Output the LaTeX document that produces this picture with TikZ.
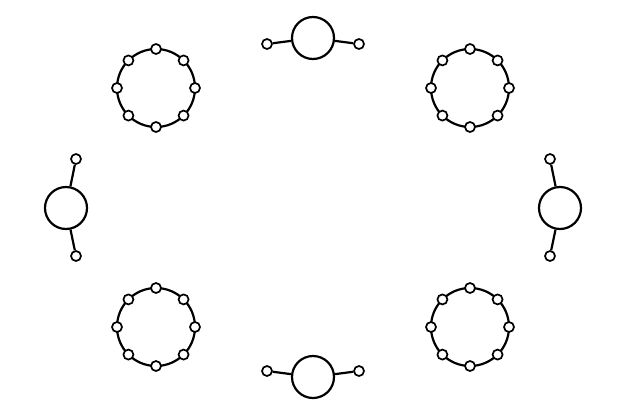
\documentclass[tikz,border=0pt]{standalone}
\usetikzlibrary{calc}
\begin{document}
\begin{tikzpicture}[x=1pt,y=-1pt,
  big/.style={circle,draw=black,line width=2.2pt,fill=white,minimum size=42pt,inner sep=0pt},
  dot/.style={circle,draw=black,line width=1.7pt,fill=white,minimum size=10pt,inner sep=0pt},
  link/.style={line width=2.2pt},
  ringline/.style={line width=2.2pt}]
\useasboundingbox (0,0) rectangle (626,418);
% top and bottom molecules
\node[big] (T) at (313,38) {};
\node[dot] (Tl) at (267,44) {};
\node[dot] (Tr) at (359,44) {};
\draw[link] (Tl) -- (T) (T) -- (Tr);
\node[big] (B) at (313,377) {};
\node[dot] (Bl) at (267,371) {};
\node[dot] (Br) at (359,371) {};
\draw[link] (Bl) -- (B) (B) -- (Br);
% left and right molecules
\node[big] (L) at (66,208) {};
\node[dot] (Lt) at (76,159) {};
\node[dot] (Lb) at (76,256) {};
\draw[link] (Lt) -- (L) (L) -- (Lb);
\node[big] (R) at (560,208) {};
\node[dot] (Rt) at (550,159) {};
\node[dot] (Rb) at (550,256) {};
\draw[link] (Rt) -- (R) (R) -- (Rb);
% rings
\foreach \n/\cx/\cy in {A/156/88, C/470/88, D/156/327, E/470/327}{
  \coordinate (\n c) at (\cx,\cy);
  \draw[ringline] (\n c) circle[radius=39];
  \foreach \k in {0,...,7}{
    \node[dot] (\n\k) at ($(\n c)+({\k*45}:39)$) {};
  }
}
\end{tikzpicture}
\end{document}
